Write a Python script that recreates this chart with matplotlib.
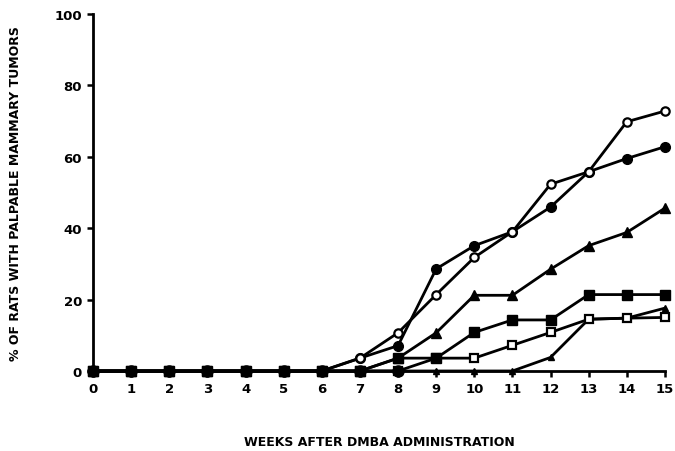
import matplotlib
matplotlib.use("Agg")
import matplotlib.pyplot as plt

plt.rcParams['font.family'] = ['DejaVu Sans']
plt.rcParams['font.weight'] = 'bold'

weeks = list(range(16))

# % of rats with palpable mammary tumors
open_circle   = [0, 0, 0, 0, 0, 0, 0, 3.6, 10.7, 21.4, 31.8, 39.0, 52.3, 55.8, 69.8, 72.8]
filled_circle = [0, 0, 0, 0, 0, 0, 0, 3.6, 7.1, 28.6, 35.1, 39.0, 45.9, 55.8, 59.5, 62.8]
filled_tri    = [0, 0, 0, 0, 0, 0, 0, 0, 3.6, 10.7, 21.2, 21.2, 28.5, 35.1, 38.8, 45.6]
filled_square = [0, 0, 0, 0, 0, 0, 0, 0, 3.6, 3.6, 10.8, 14.3, 14.3, 21.4, 21.4, 21.4]
open_square   = [0, 0, 0, 0, 0, 0, 0, 0, 0, 3.6, 3.6, 7.2, 10.8, 14.5, 14.8, 15.0]
small_tri     = [0, 0, 0, 0, 0, 0, 0, 0, 0, 0, 0, 0, 3.8, 14.5, 14.8, 17.6]

fig = plt.figure(figsize=(6.75, 4.52), dpi=100)
ax = fig.add_axes([0.138, 0.177, 0.847, 0.79])

lw = 2.0
kw = dict(color='black', lw=lw, clip_on=False)
ax.plot(weeks, small_tri, marker='^', ms=5, **kw)
ax.plot(weeks, open_square, marker='s', ms=6, mfc='white', mew=1.6, **kw)
ax.plot(weeks, filled_square, marker='s', ms=7, **kw)
ax.plot(weeks, filled_tri, marker='^', ms=7, **kw)
ax.plot(weeks, filled_circle, marker='o', ms=7, **kw)
ax.plot(weeks, open_circle, marker='o', ms=6, mfc='white', mew=1.6, **kw)
# baseline markers for the first weeks are drawn big and filled
ax.plot(weeks[:9], [0] * 9, marker='o', ms=8, ls='none', color='black', clip_on=False)

ax.set_xlim(0, 15)
ax.set_ylim(0, 100)
ax.set_xticks(weeks)
ax.set_yticks([0, 20, 40, 60, 80, 100])
ax.spines['top'].set_visible(False)
ax.spines['right'].set_visible(False)
ax.spines['left'].set_linewidth(2)
ax.spines['bottom'].set_linewidth(2)
ax.tick_params(width=1.8, length=4, labelsize=9.5, pad=4)
for lab in ax.get_xticklabels() + ax.get_yticklabels():
    lab.set_fontweight('bold')

ax.set_xlabel('WEEKS AFTER DMBA ADMINISTRATION', fontsize=9, fontweight='bold')
ax.set_ylabel('% OF RATS WITH PALPABLE MAMMARY TUMORS', fontsize=9, fontweight='bold')
ax.xaxis.set_label_coords(0.5, -0.18)
ax.yaxis.set_label_coords(-0.125, 0.5)

fig.savefig('out.png', dpi=100)
